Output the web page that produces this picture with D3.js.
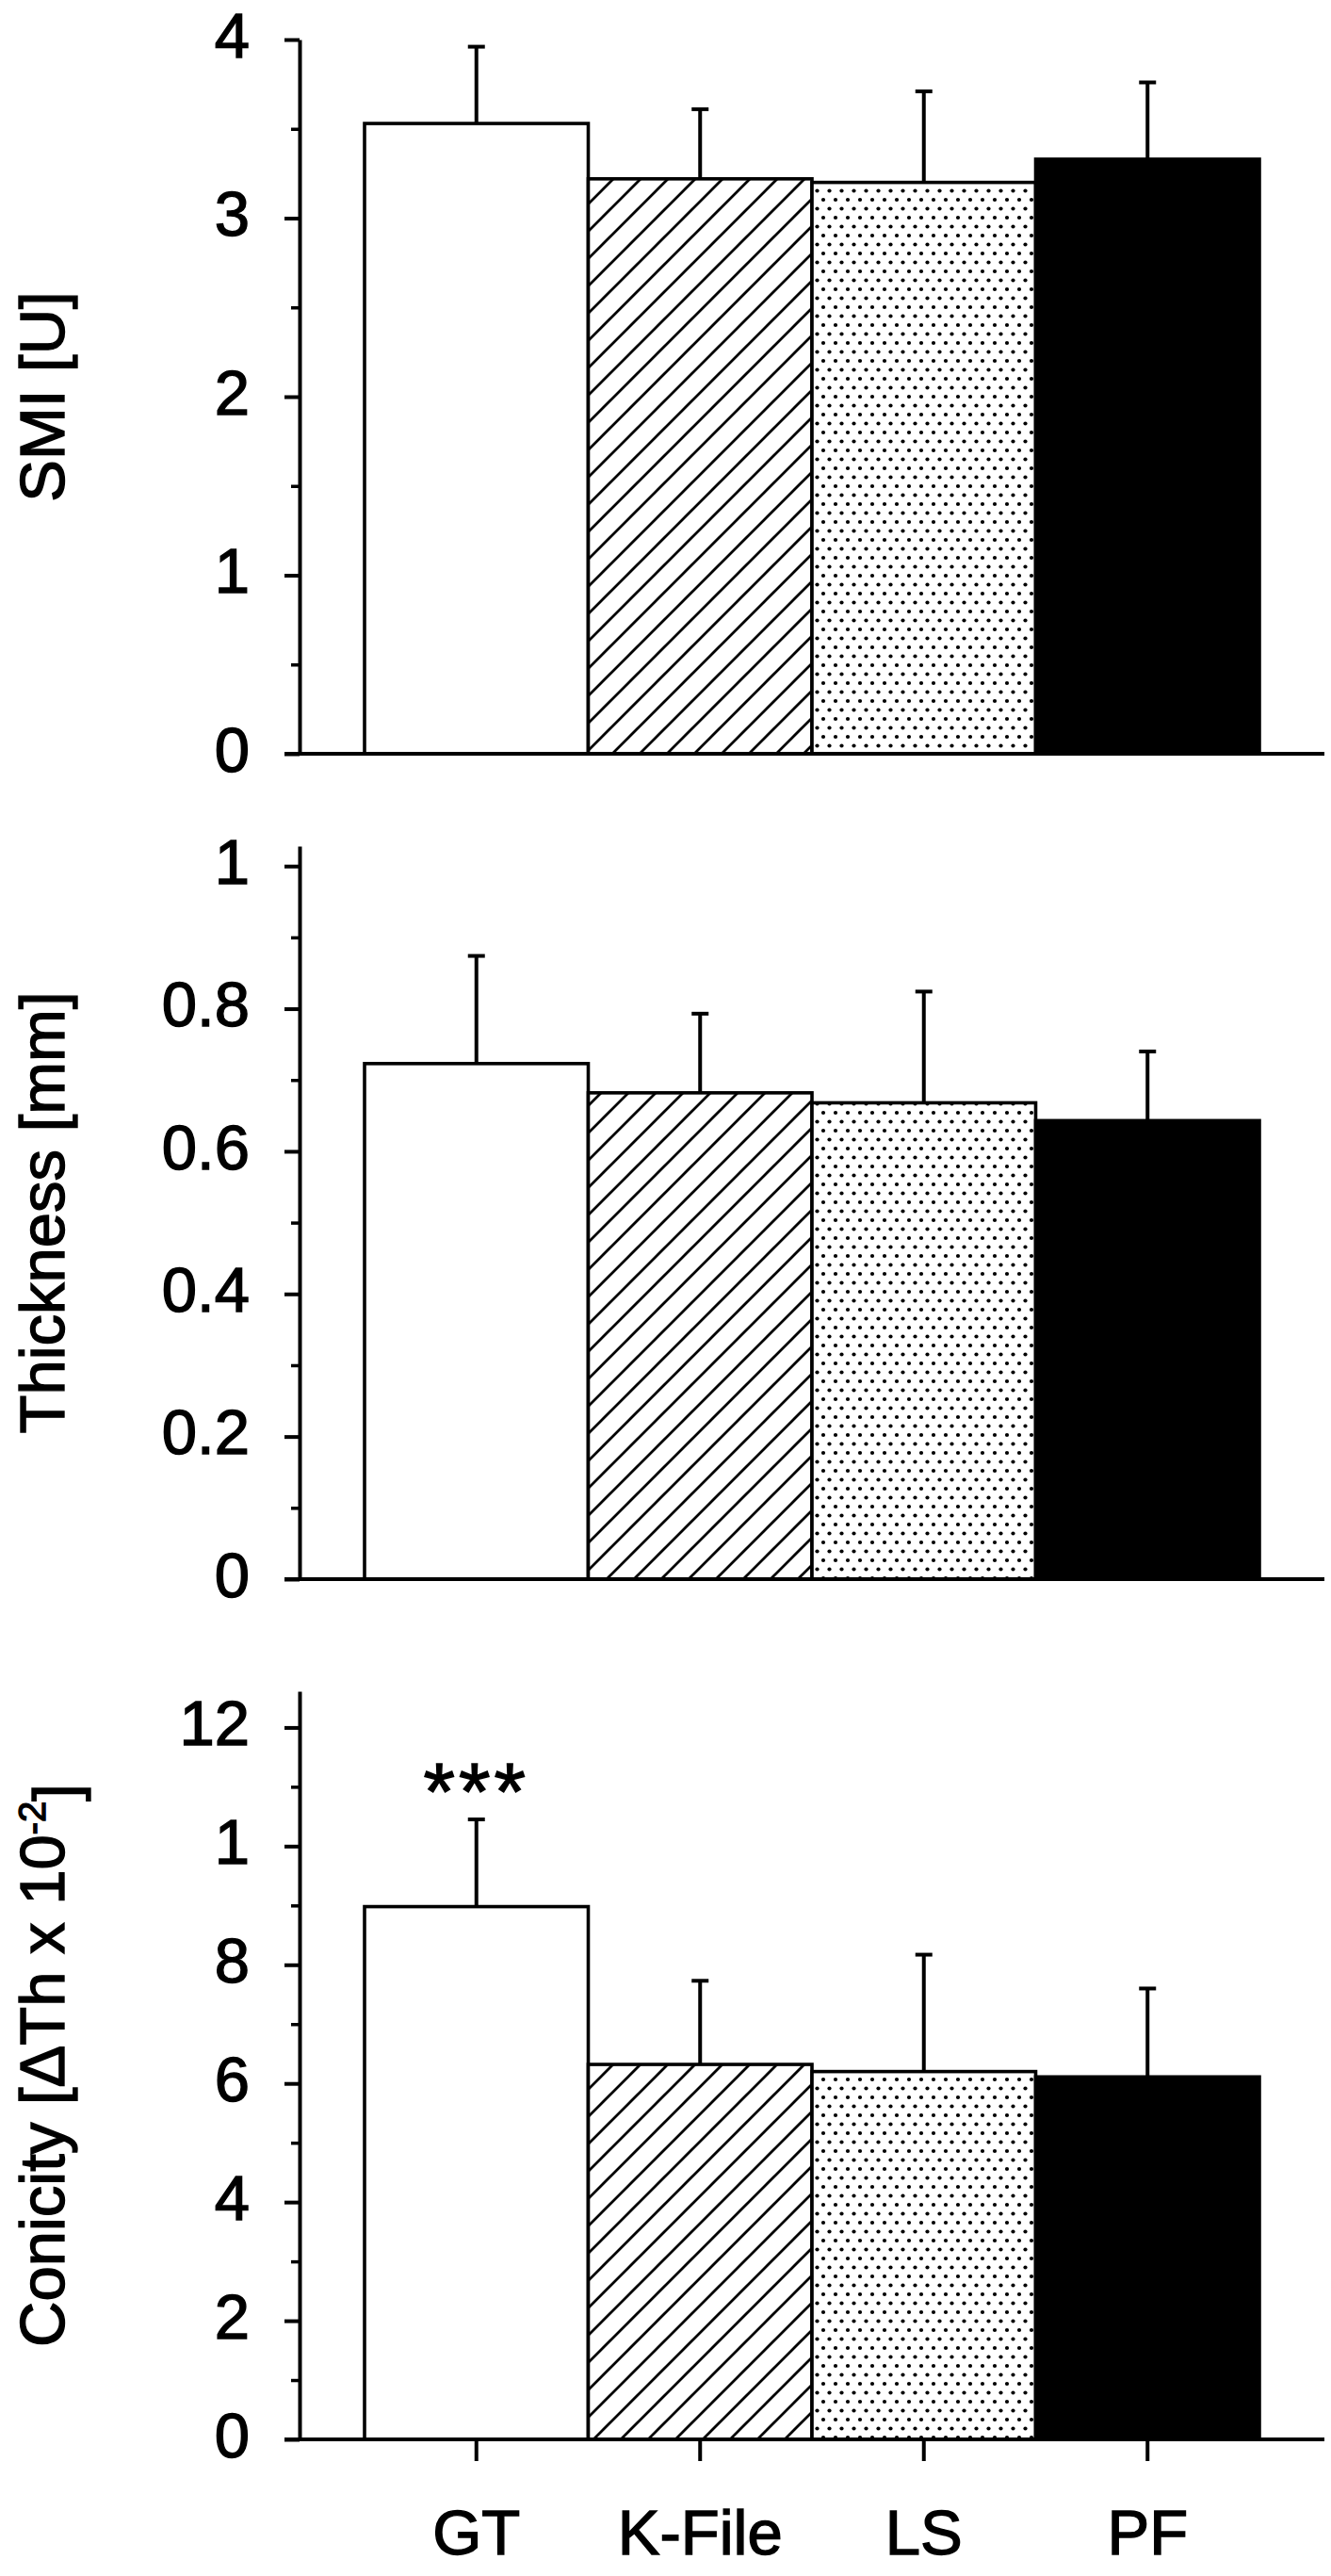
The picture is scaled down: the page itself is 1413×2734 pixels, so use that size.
<!DOCTYPE html>
<html>
<head>
<meta charset="utf-8">
<script src="https://cdn.jsdelivr.net/npm/d3@7"></script>
<style>
body { margin: 0; background: #fff; }
text { font-family: "Liberation Sans", Arial, Helvetica, sans-serif; fill: #000; stroke: #000; stroke-width: 1.4px; }
</style>
</head>
<body>
<div id="chart"></div>
<script>
// groups on the x axis
var categories = ["GT", "K-File", "LS", "PF"];
var fills = ["#fff", "url(#hatch)", "url(#dots)", "#000"];

// SMI [U]
var smiMean = [3.53, 3.22, 3.20, 3.33];
var smiErr = [0.43, 0.39, 0.51, 0.43];
var smiTicks = [0, 1, 2, 3, 4];
var smiLabels = ["0", "1", "2", "3", "4"];
var smiMinor = [0.5, 1.5, 2.5, 3.5];

// Thickness [mm]
var thickMean = [0.723, 0.682, 0.668, 0.643];
var thickErr = [0.151, 0.111, 0.156, 0.097];
var thickTicks = [0, 0.2, 0.4, 0.6, 0.8, 1];
var thickLabels = ["0", "0.2", "0.4", "0.6", "0.8", "1"];
var thickMinor = [0.1, 0.3, 0.5, 0.7, 0.9];

// Conicity
var conMean = [8.98, 6.32, 6.20, 6.11];
var conErr = [1.47, 1.41, 1.97, 1.49];
var conTicks = [0, 2, 4, 6, 8, 10, 12];
var conLabels = ["0", "2", "4", "6", "8", "1", "12"];
var conMinor = [1, 3, 5, 7, 9, 11];
var conSig = ["***", "", "", ""];

var width = 1413, height = 2734;
var axisX = 318;

var svg = d3.select("#chart").append("svg")
  .attr("width", width)
  .attr("height", height);

svg.append("rect").attr("width", width).attr("height", height).attr("fill", "#fff");

// fill patterns
var defs = svg.append("defs");
var hatch = defs.append("pattern")
  .attr("id", "hatch")
  .attr("patternUnits", "userSpaceOnUse")
  .attr("width", 29).attr("height", 29);
hatch.append("rect").attr("width", 29).attr("height", 29).attr("fill", "#fff");
hatch.append("path")
  .attr("d", "M0,29L29,0M-8,8L8,-8M21,37L37,21")
  .attr("stroke", "#000").attr("stroke-width", 2.8);

var dots = defs.append("pattern")
  .attr("id", "dots")
  .attr("patternUnits", "userSpaceOnUse")
  .attr("width", 13).attr("height", 19);
dots.append("rect").attr("width", 13).attr("height", 19).attr("fill", "#fff");
dots.append("circle").attr("cx", 3).attr("cy", 3).attr("r", 2.1).attr("fill", "#000");
dots.append("circle").attr("cx", 9.5).attr("cy", 12.5).attr("r", 2.1).attr("fill", "#000");

var x = d3.scaleBand()
  .domain(categories)
  .range([387, 1337])
  .padding(0);

var panels = [
  {mean: smiMean, err: smiErr, ticks: smiTicks, labels: smiLabels, minor: smiMinor,
   max: 4, bottom: 800, top: 42, title: "SMI [U]", xlabels: false},
  {mean: thickMean, err: thickErr, ticks: thickTicks, labels: thickLabels, minor: thickMinor,
   max: 1.028, bottom: 1676, top: 898, title: "Thickness [mm]", xlabels: false},
  {mean: conMean, err: conErr, ticks: conTicks, labels: conLabels, minor: conMinor,
   max: 12.61, bottom: 2589, top: 1795, title: "conicity", xlabels: true, sig: conSig}
];

panels.forEach(function(p) {
  var y = d3.scaleLinear()
    .domain([0, p.max])
    .range([p.bottom, p.top]);

  var g = svg.append("g");

  // bars
  g.selectAll(".bar")
    .data(categories)
    .enter().append("rect")
    .attr("class", "bar")
    .attr("x", function(d) { return x(d); })
    .attr("width", x.bandwidth())
    .attr("y", function(d, i) { return y(p.mean[i]); })
    .attr("height", function(d, i) { return y(0) - y(p.mean[i]); })
    .attr("fill", function(d, i) { return fills[i]; })
    .attr("stroke", "#000")
    .attr("stroke-width", 3.6);

  // error bars (upper only)
  g.selectAll(".stem")
    .data(categories)
    .enter().append("line")
    .attr("x1", function(d) { return x(d) + x.bandwidth() / 2; })
    .attr("x2", function(d) { return x(d) + x.bandwidth() / 2; })
    .attr("y1", function(d, i) { return y(p.mean[i]); })
    .attr("y2", function(d, i) { return y(p.mean[i] + p.err[i]); })
    .attr("stroke", "#000").attr("stroke-width", 4);
  g.selectAll(".cap")
    .data(categories)
    .enter().append("line")
    .attr("x1", function(d) { return x(d) + x.bandwidth() / 2 - 9; })
    .attr("x2", function(d) { return x(d) + x.bandwidth() / 2 + 9; })
    .attr("y1", function(d, i) { return y(p.mean[i] + p.err[i]); })
    .attr("y2", function(d, i) { return y(p.mean[i] + p.err[i]); })
    .attr("stroke", "#000").attr("stroke-width", 4);

  if (p.sig) {
    g.selectAll(".sig")
      .data(categories)
      .enter().append("text")
      .attr("x", function(d) { return x(d) + x.bandwidth() / 2; })
      .attr("y", function(d, i) { return y(p.mean[i] + p.err[i]); })
      .style("text-anchor", "middle")
      .style("font-size", "86px")
      .style("letter-spacing", "4px")
      .text(function(d, i) { return p.sig[i]; });
  }

  // y axis
  var yAxis = g.append("g")
    .attr("transform", "translate(" + axisX + ",0)")
    .call(d3.axisLeft(y)
      .tickValues(p.ticks)
      .tickFormat(function(d, i) { return p.labels[i]; })
      .tickSize(16)
      .tickPadding(37)
      .tickSizeOuter(0));
  yAxis.select(".domain").attr("stroke-width", 4);
  yAxis.selectAll(".tick line").attr("stroke-width", 4);
  yAxis.selectAll(".tick text")
    .attr("dy", "0.27em")
    .style("font-size", "67px")
    .style("font-family", "'Liberation Sans', Arial, sans-serif");

  var minor = g.append("g")
    .attr("transform", "translate(" + axisX + ",0)")
    .call(d3.axisLeft(y).tickValues(p.minor).tickSize(9).tickFormat(""));
  minor.select(".domain").remove();
  minor.selectAll(".tick line").attr("stroke-width", 3.5);

  // x axis line
  g.append("line")
    .attr("x1", axisX - 16).attr("x2", 1406)
    .attr("y1", y(0)).attr("y2", y(0))
    .attr("stroke", "#000").attr("stroke-width", 4);

  if (p.xlabels) {
    var xAxis = g.append("g")
      .attr("transform", "translate(0," + y(0) + ")")
      .call(d3.axisBottom(x).tickSize(23).tickPadding(51));
    xAxis.select(".domain").remove();
    xAxis.selectAll(".tick line").attr("stroke-width", 4);
    xAxis.selectAll(".tick text")
      .style("font-size", "67px")
      .style("font-family", "'Liberation Sans', Arial, sans-serif");
  }

  // y title
  var t = g.append("text")
    .attr("transform", "translate(68," + ((p.bottom + p.top) / 2) + ") rotate(-90)")
    .style("text-anchor", "middle")
    .style("font-size", "67px");
  if (p.title == "conicity") {
    t.append("tspan").text("Conicity [\u0394Th x 10");
    t.append("tspan").attr("dy", "-0.5em").style("font-size", "40px").text("-2");
    t.append("tspan").attr("dy", "0.5em").text("]");
  } else {
    t.text(p.title);
  }
});
</script>
</body>
</html>
